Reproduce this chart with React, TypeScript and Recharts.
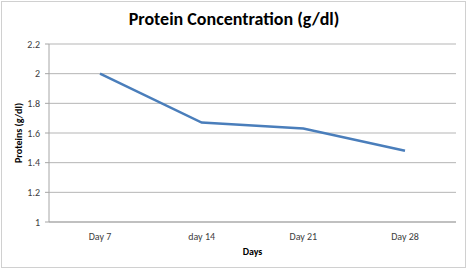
import { CartesianGrid, Line, LineChart, XAxis, YAxis } from "recharts";

const days = ["Day 7", "day 14", "Day 21", "Day 28"];
const proteins = [2.0, 1.67, 1.63, 1.48];
const yTicks = [1, 1.2, 1.4, 1.6, 1.8, 2, 2.2];

const data = days.map((day, i) => ({ day, value: proteins[i] }));

const font = "Carlito, 'Open Sans', 'Noto Sans', sans-serif";

export default function App() {
  return (
    <div style={{ position: "absolute", left: 0, top: 0, width: 468, height: 269, background: "#fff", fontFamily: font }}>
      <div
        style={{
          position: "absolute",
          left: 1,
          top: 1,
          width: 463,
          height: 265,
          border: "1px solid #d0d0d0"
        }}
      />
      <div
        style={{
          position: "absolute",
          left: 0,
          top: 8,
          width: 468,
          textAlign: "center",
          fontSize: 18,
          fontWeight: 700,
          color: "#000"
        }}
      >
        Protein Concentration (g/dl)
      </div>
      <LineChart
        width={468}
        height={269}
        data={data}
        margin={{ top: 44, right: 12, bottom: 0, left: 0 }}
        style={{ position: "absolute", left: 0, top: 0 }}
      >
        <CartesianGrid vertical={false} stroke="#b5b5b5" strokeWidth={1} />
        <XAxis
          dataKey="day"
          height={47}
          padding={{ left: 51, right: 51 }}
          tickLine={false}
          axisLine={{ stroke: "#a6a6a6" }}
          tick={{ fontSize: 10, fill: "#404040", fontFamily: font }}
          tickMargin={5}
          label={{
            value: "Days",
            position: "insideBottom",
            offset: 14,
            style: { fontSize: 10, fontWeight: 700, fill: "#000", fontFamily: font }
          }}
        />
        <YAxis
          domain={[1, 2.2]}
          ticks={yTicks}
          interval={0}
          width={49}
          tickSize={4}
          tickMargin={5}
          tickLine={{ stroke: "#a6a6a6" }}
          axisLine={{ stroke: "#a6a6a6" }}
          tick={{ fontSize: 10, fill: "#404040", fontFamily: font }}
          label={{
            value: "Proteins (g/dl)",
            angle: -90,
            position: "insideLeft",
            offset: 18,
            style: { textAnchor: "middle", fontSize: 10, fontWeight: 700, fill: "#000", fontFamily: font }
          }}
        />
        <Line
          dataKey="value"
          stroke="#4a7ebb"
          strokeWidth={2.5}
          dot={false}
          isAnimationActive={false}
        />
      </LineChart>
    </div>
  );
}
